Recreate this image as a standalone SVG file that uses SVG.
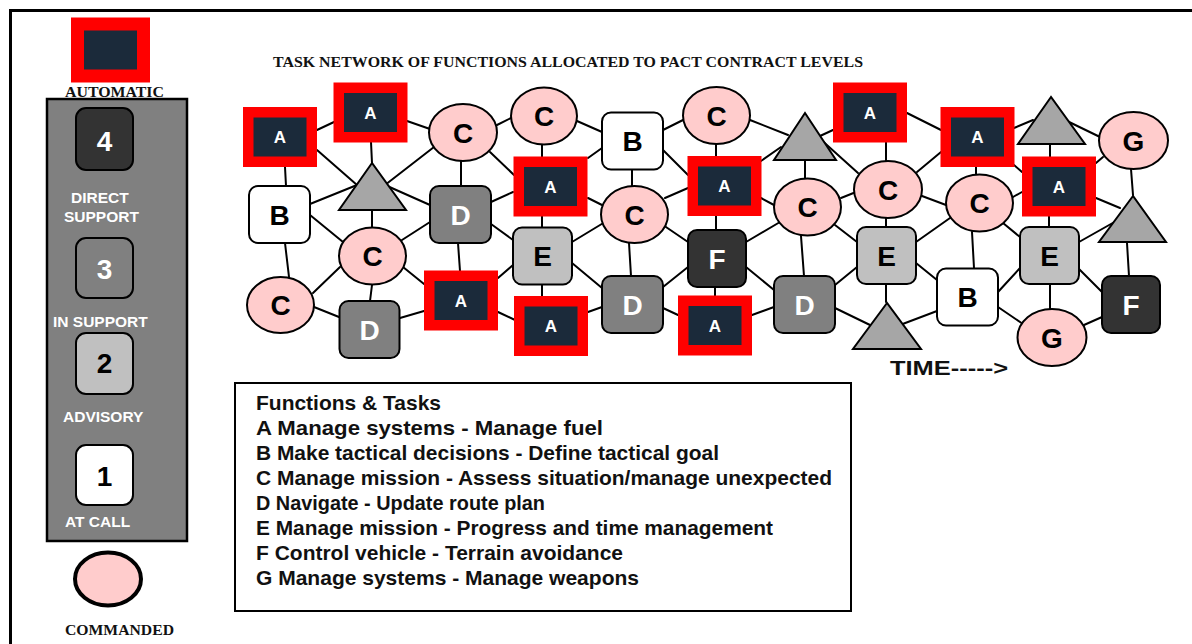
<svg xmlns="http://www.w3.org/2000/svg" width="1192" height="644" viewBox="0 0 1192 644">
<style>
.serif{font-family:"Liberation Serif","Times New Roman",serif;font-weight:bold;fill:#111}
.sans{font-family:"Liberation Sans",Arial,sans-serif;font-weight:bold}
.lvl{font-family:"Liberation Sans",Arial,sans-serif;font-weight:bold;font-size:15.5px;fill:#fff}
.num{font-family:"Liberation Sans",Arial,sans-serif;font-weight:bold;font-size:28px;text-anchor:middle}
.box{stroke:#000;stroke-width:2}
.aut{fill:#1b2a3a;stroke:#ff0000;stroke-width:10.5}
.atx{font-family:"Liberation Sans",Arial,sans-serif;font-weight:bold;font-size:17px;fill:#fff;text-anchor:middle}
.ell{fill:#ffcccc;stroke:#000;stroke-width:2}
.tri{fill:#a6a6a6;stroke:#000;stroke-width:2;stroke-linejoin:miter}
.lbl{font-family:"Liberation Sans",Arial,sans-serif;font-weight:bold;font-size:28px;text-anchor:middle}
.leg{font-family:"Liberation Sans",Arial,sans-serif;font-weight:bold;font-size:21px;fill:#111}
#connectors line{stroke:#000;stroke-width:2;stroke-linecap:round}
</style>
<rect x="0" y="0" width="1192" height="644" fill="#fff"/>
<rect x="10.5" y="10.5" width="1200" height="700" fill="none" stroke="#000" stroke-width="3"/>

<g id="legend-levels">
  <rect x="77.5" y="24" width="66" height="52" fill="#1b2a3a" stroke="#ff0000" stroke-width="13"/>
  <text class="serif" x="65" y="97" font-size="15.5" textLength="99" lengthAdjust="spacingAndGlyphs">AUTOMATIC</text>
  <rect x="47" y="99" width="140" height="442" fill="#808080" stroke="#000" stroke-width="2.5"/>
  <rect class="box" x="76" y="108" width="57" height="62" rx="10" fill="#333333"/>
  <text class="num" x="104.5" y="151" fill="#fff">4</text>
  <text class="lvl" x="71" y="203">DIRECT</text>
  <text class="lvl" x="64" y="222">SUPPORT</text>
  <rect class="box" x="76" y="238" width="57" height="60" rx="10" fill="#808080"/>
  <text class="num" x="104.5" y="279" fill="#fff">3</text>
  <text class="lvl" x="53" y="327">IN SUPPORT</text>
  <rect class="box" x="76" y="333" width="57" height="61" rx="10" fill="#c0c0c0"/>
  <text class="num" x="104.5" y="373" fill="#000">2</text>
  <text class="lvl" x="63" y="422">ADVISORY</text>
  <rect class="box" x="76" y="445" width="57" height="60" rx="10" fill="#fff"/>
  <text class="num" x="104.5" y="486" fill="#000">1</text>
  <text class="lvl" x="65" y="527">AT CALL</text>
  <ellipse cx="108" cy="579" rx="33" ry="26.5" fill="#ffcccc" stroke="#000" stroke-width="4"/>
  <text class="serif" x="65" y="635" font-size="15.5" textLength="109" lengthAdjust="spacingAndGlyphs">COMMANDED</text>
</g>

<text id="title" class="serif" x="273" y="67" font-size="14.5" textLength="590" lengthAdjust="spacingAndGlyphs">TASK NETWORK OF FUNCTIONS ALLOCATED TO PACT CONTRACT LEVELS</text>

<g id="connectors">
  <line x1="317" y1="130" x2="334" y2="122"/>
  <line x1="285" y1="167" x2="286" y2="186"/>
  <line x1="317" y1="150" x2="357" y2="185"/>
  <line x1="371" y1="142" x2="372" y2="163"/>
  <line x1="407" y1="121" x2="430" y2="129"/>
  <line x1="497" y1="125" x2="511" y2="118"/>
  <line x1="434" y1="147" x2="385" y2="185"/>
  <line x1="310" y1="204" x2="357" y2="185"/>
  <line x1="385" y1="185" x2="430" y2="205"/>
  <line x1="372" y1="211" x2="372" y2="227"/>
  <line x1="310" y1="215" x2="343" y2="242"/>
  <line x1="285" y1="243" x2="289" y2="277"/>
  <line x1="461" y1="161" x2="461" y2="186"/>
  <line x1="490" y1="152" x2="514" y2="175"/>
  <line x1="542" y1="145" x2="542" y2="157"/>
  <line x1="491" y1="202" x2="513" y2="192"/>
  <line x1="430" y1="222" x2="402" y2="240"/>
  <line x1="491" y1="224" x2="513" y2="240"/>
  <line x1="458" y1="243" x2="460" y2="271"/>
  <line x1="542" y1="216" x2="542" y2="227"/>
  <line x1="340" y1="267" x2="313" y2="293"/>
  <line x1="372" y1="285" x2="370" y2="301"/>
  <line x1="403" y1="267" x2="424" y2="284"/>
  <line x1="314" y1="307" x2="339" y2="317"/>
  <line x1="400" y1="318" x2="424" y2="311"/>
  <line x1="498" y1="278" x2="513" y2="265"/>
  <line x1="498" y1="312" x2="515" y2="320"/>
  <line x1="542" y1="285" x2="542" y2="297"/>
  <line x1="577" y1="121" x2="602" y2="132"/>
  <line x1="588" y1="158" x2="602" y2="148"/>
  <line x1="663" y1="130" x2="683" y2="120"/>
  <line x1="632" y1="170" x2="632" y2="186"/>
  <line x1="663" y1="150" x2="688" y2="175"/>
  <line x1="716" y1="144" x2="716" y2="156"/>
  <line x1="750" y1="120" x2="788" y2="135"/>
  <line x1="761" y1="161" x2="781" y2="147"/>
  <line x1="820" y1="136" x2="833" y2="130"/>
  <line x1="818" y1="137" x2="858" y2="173"/>
  <line x1="805" y1="161" x2="805" y2="178"/>
  <line x1="588" y1="198" x2="602" y2="205"/>
  <line x1="665" y1="198" x2="688" y2="188"/>
  <line x1="761" y1="198" x2="774" y2="205"/>
  <line x1="841" y1="198" x2="856" y2="192"/>
  <line x1="716" y1="216" x2="716" y2="230"/>
  <line x1="572" y1="242" x2="605" y2="222"/>
  <line x1="572" y1="263" x2="602" y2="288"/>
  <line x1="629" y1="243" x2="631" y2="276"/>
  <line x1="663" y1="225" x2="688" y2="242"/>
  <line x1="746" y1="242" x2="780" y2="222"/>
  <line x1="688" y1="267" x2="663" y2="287"/>
  <line x1="715" y1="287" x2="715" y2="296"/>
  <line x1="746" y1="267" x2="774" y2="290"/>
  <line x1="801" y1="236" x2="804" y2="276"/>
  <line x1="835" y1="225" x2="857" y2="242"/>
  <line x1="835" y1="285" x2="857" y2="267"/>
  <line x1="835" y1="308" x2="870" y2="325"/>
  <line x1="588" y1="312" x2="602" y2="307"/>
  <line x1="663" y1="308" x2="678" y2="315"/>
  <line x1="752" y1="315" x2="774" y2="307"/>
  <line x1="907" y1="113" x2="941" y2="130"/>
  <line x1="886" y1="142" x2="886" y2="161"/>
  <line x1="1014" y1="128" x2="1033" y2="120"/>
  <line x1="1065" y1="120" x2="1100" y2="137"/>
  <line x1="1050" y1="145" x2="1050" y2="157"/>
  <line x1="941" y1="152" x2="917" y2="172"/>
  <line x1="976" y1="167" x2="976" y2="174"/>
  <line x1="1014" y1="165" x2="1022" y2="172"/>
  <line x1="1103" y1="157" x2="1096" y2="163"/>
  <line x1="1131" y1="169" x2="1133" y2="195"/>
  <line x1="922" y1="196" x2="946" y2="205"/>
  <line x1="1013" y1="197" x2="1022" y2="192"/>
  <line x1="1096" y1="198" x2="1120" y2="208"/>
  <line x1="886" y1="218" x2="886" y2="227"/>
  <line x1="950" y1="218" x2="916" y2="242"/>
  <line x1="972" y1="232" x2="974" y2="268"/>
  <line x1="1003" y1="223" x2="1020" y2="237"/>
  <line x1="1049" y1="216" x2="1049" y2="227"/>
  <line x1="1079" y1="242" x2="1118" y2="220"/>
  <line x1="1127" y1="243" x2="1129" y2="276"/>
  <line x1="916" y1="263" x2="937" y2="280"/>
  <line x1="886" y1="284" x2="886" y2="302"/>
  <line x1="937" y1="311" x2="900" y2="325"/>
  <line x1="998" y1="292" x2="1020" y2="268"/>
  <line x1="998" y1="307" x2="1023" y2="324"/>
  <line x1="1050" y1="284" x2="1050" y2="309"/>
  <line x1="1079" y1="269" x2="1102" y2="292"/>
  <line x1="1084" y1="325" x2="1102" y2="317"/>
</g>

<!-- A nodes -->
<g id="n1"><rect class="aut" x="248.25" y="112.25" width="63.5" height="49.5"/><text class="atx" x="280" y="143">A</text></g>
<g id="n2"><rect class="aut" x="338.75" y="87.75" width="63.5" height="49.5"/><text class="atx" x="370.5" y="118.5">A</text></g>
<g id="n8"><rect class="aut" x="838.25" y="87.75" width="63.5" height="49.5"/><text class="atx" x="870" y="118.5">A</text></g>
<g id="n9"><rect class="aut" x="945.75" y="112.25" width="63.5" height="49.5"/><text class="atx" x="977.5" y="143">A</text></g>
<g id="n15"><rect class="aut" x="518.75" y="161.75" width="63.5" height="49.5"/><text class="atx" x="550.5" y="192.5">A</text></g>
<g id="n17"><rect class="aut" x="692.75" y="161.25" width="63.5" height="49.5"/><text class="atx" x="724.5" y="192">A</text></g>
<g id="n21"><rect class="aut" x="1027.25" y="161.75" width="63.5" height="49.5"/><text class="atx" x="1059" y="192.5">A</text></g>
<g id="n30"><rect class="aut" x="429.25" y="275.75" width="63.5" height="49.5"/><text class="atx" x="461" y="306.5">A</text></g>
<g id="n31"><rect class="aut" x="519.25" y="301.25" width="63.5" height="49.5"/><text class="atx" x="551" y="332">A</text></g>
<g id="n33"><rect class="aut" x="683.25" y="300.75" width="63.5" height="49.5"/><text class="atx" x="715" y="331.5">A</text></g>

<!-- C / G nodes -->
<g id="n3"><ellipse class="ell" cx="463" cy="132.5" rx="34" ry="28.5"/><text class="lbl" x="463" y="142.5">C</text></g>
<g id="n4"><ellipse class="ell" cx="544" cy="116" rx="33" ry="28.5"/><text class="lbl" x="544" y="126">C</text></g>
<g id="n6"><ellipse class="ell" cx="716.5" cy="115.5" rx="33.5" ry="28.5"/><text class="lbl" x="716.5" y="125.5">C</text></g>
<g id="n11"><ellipse class="ell" cx="1133.5" cy="140.5" rx="34.5" ry="28.5"/><text class="lbl" x="1133.5" y="150.5">G</text></g>
<g id="n16"><ellipse class="ell" cx="634.5" cy="214.5" rx="33.5" ry="28.5"/><text class="lbl" x="634.5" y="224.5">C</text></g>
<g id="n18"><ellipse class="ell" cx="807.5" cy="207" rx="33.5" ry="28.5"/><text class="lbl" x="807.5" y="217">C</text></g>
<g id="n19"><ellipse class="ell" cx="888" cy="189.5" rx="34" ry="28.5"/><text class="lbl" x="888" y="199.5">C</text></g>
<g id="n20"><ellipse class="ell" cx="979.5" cy="203" rx="33.5" ry="28.5"/><text class="lbl" x="979.5" y="213">C</text></g>
<g id="n23"><ellipse class="ell" cx="372.5" cy="256" rx="33.5" ry="28.5"/><text class="lbl" x="372.5" y="266">C</text></g>
<g id="n28"><ellipse class="ell" cx="280.5" cy="305" rx="33.5" ry="28"/><text class="lbl" x="280.5" y="315">C</text></g>
<g id="n37"><ellipse class="ell" cx="1052" cy="337.5" rx="34.5" ry="28.5"/><text class="lbl" x="1052" y="347.5">G</text></g>

<!-- square nodes -->
<g id="n12"><rect class="box" x="249" y="186" width="61" height="57" rx="9" fill="#fff"/><text class="lbl" x="279.5" y="224.5">B</text></g>
<g id="n5"><rect class="box" x="602" y="112.5" width="61" height="57" rx="9" fill="#fff"/><text class="lbl" x="632.5" y="151">B</text></g>
<g id="n36"><rect class="box" x="937" y="268.5" width="61" height="57" rx="9" fill="#fff"/><text class="lbl" x="967.5" y="307">B</text></g>
<g id="n14"><rect class="box" x="430" y="186" width="61" height="57" rx="9" fill="#808080"/><text class="lbl" x="460.5" y="224.5" fill="#fff">D</text></g>
<g id="n29"><rect class="box" x="339.5" y="301" width="60" height="57" rx="9" fill="#808080"/><text class="lbl" x="369.5" y="339.5" fill="#fff">D</text></g>
<g id="n32"><rect class="box" x="602" y="276" width="61" height="57" rx="9" fill="#808080"/><text class="lbl" x="632.5" y="314.5" fill="#fff">D</text></g>
<g id="n34"><rect class="box" x="774" y="276" width="61" height="57" rx="9" fill="#808080"/><text class="lbl" x="804.5" y="314.5" fill="#fff">D</text></g>
<g id="n24"><rect class="box" x="513" y="227.5" width="59" height="57" rx="9" fill="#c0c0c0"/><text class="lbl" x="542.5" y="266">E</text></g>
<g id="n26"><rect class="box" x="857" y="227" width="59" height="57" rx="9" fill="#c0c0c0"/><text class="lbl" x="886.5" y="265.5">E</text></g>
<g id="n27"><rect class="box" x="1020" y="227" width="59" height="57" rx="9" fill="#c0c0c0"/><text class="lbl" x="1049.5" y="265.5">E</text></g>
<g id="n25"><rect class="box" x="688" y="230" width="58" height="57" rx="9" fill="#333333"/><text class="lbl" x="717" y="268.5" fill="#fff">F</text></g>
<g id="n38"><rect class="box" x="1102" y="276" width="58" height="57" rx="9" fill="#333333"/><text class="lbl" x="1131" y="314.5" fill="#fff">F</text></g>

<!-- triangles -->
<g id="n13"><polygon class="tri" points="372,163 339,210 406,210"/></g>
<g id="n7"><polygon class="tri" points="805,113 774,160 836,160"/></g>
<g id="n10"><polygon class="tri" points="1051,97 1018,144 1085,144"/></g>
<g id="n22"><polygon class="tri" points="1133,196 1099,242 1166,242"/></g>
<g id="n35"><polygon class="tri" points="887,303 853,349 921,349"/></g>

<text id="time" class="sans" x="890" y="375" font-size="20" fill="#111" textLength="118" lengthAdjust="spacingAndGlyphs">TIME-----&gt;</text>

<g id="functions-legend">
  <rect x="235" y="383" width="616" height="228" fill="#fff" stroke="#000" stroke-width="2"/>
  <text class="leg" x="256" y="410" textLength="185" lengthAdjust="spacingAndGlyphs">Functions &amp; Tasks</text>
  <text class="leg" x="256" y="435" textLength="347" lengthAdjust="spacingAndGlyphs">A Manage systems - Manage fuel</text>
  <text class="leg" x="256" y="460" textLength="463" lengthAdjust="spacingAndGlyphs">B Make tactical decisions - Define tactical goal</text>
  <text class="leg" x="256" y="485" textLength="576" lengthAdjust="spacingAndGlyphs">C Manage mission - Assess situation/manage unexpected</text>
  <text class="leg" x="256" y="510" textLength="289" lengthAdjust="spacingAndGlyphs">D Navigate - Update route plan</text>
  <text class="leg" x="256" y="535" textLength="517" lengthAdjust="spacingAndGlyphs">E Manage mission - Progress and time management</text>
  <text class="leg" x="256" y="560" textLength="367" lengthAdjust="spacingAndGlyphs">F Control vehicle - Terrain avoidance</text>
  <text class="leg" x="256" y="585" textLength="383" lengthAdjust="spacingAndGlyphs">G Manage systems - Manage weapons</text>
</g>
</svg>
